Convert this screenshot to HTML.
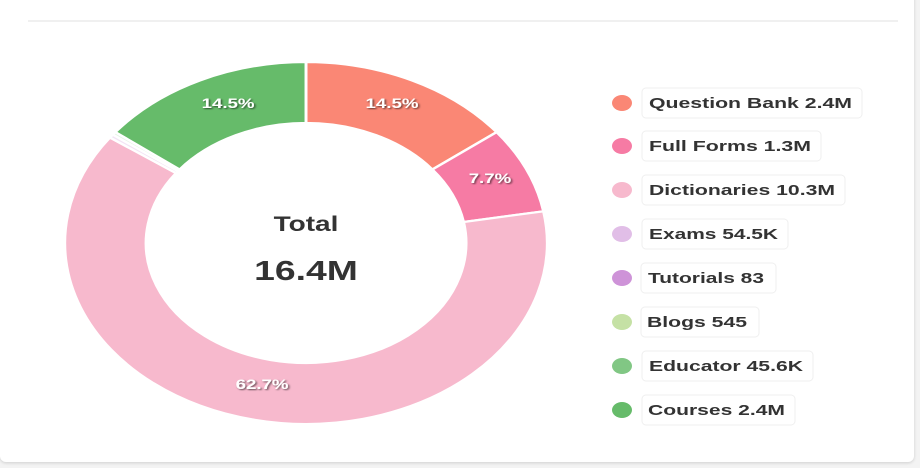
<!DOCTYPE html>
<html><head><meta charset="utf-8"><style>
html,body{margin:0;padding:0;background:#f3f3f3;}
.card{position:absolute;left:0;top:-10px;width:914px;height:472px;background:#fff;border-radius:6px;box-shadow:0 1px 3px rgba(0,0,0,0.15);}
svg{position:absolute;left:0;top:0;}
</style></head><body>
<div class="card"></div>
<svg width="920" height="468" viewBox="0 0 920 468" font-family="Liberation Sans, sans-serif">
<line x1="28" y1="21" x2="898" y2="21" stroke="#ececec" stroke-width="1.5"/>
<defs><filter id="sh" x="-20%" y="-20%" width="140%" height="140%"><feDropShadow dx="1" dy="1" stdDeviation="0.8" flood-color="#000" flood-opacity="0.6"/></filter></defs>
<g transform="translate(306,243) scale(1.333,1)" stroke="#fff" stroke-width="2.2">
<path d="M0,-181 A181,181 0 0 1 143.0,-110.9 L94.8,-73.5 A120,120 0 0 0 0,-120 Z" fill="#fa8775"/>
<path d="M143.0,-110.9 A181,181 0 0 1 178.2,-31.7 L118.2,-21.0 A120,120 0 0 0 94.8,-73.5 Z" fill="#f67ba4"/>
<path d="M178.2,-31.7 A181,181 0 1 1 -147.1,-105.5 L-97.5,-69.9 A120,120 0 1 0 118.2,-21.0 Z" fill="#f7b9cd"/>
<path d="M-147.1,-105.5 A181,181 0 0 1 -144.9,-108.4 L-96.0,-71.9 A120,120 0 0 0 -97.5,-69.9 Z" fill="#f3e4f5"/>
<path d="M-144.9,-108.4 A181,181 0 0 1 -143.0,-110.9 L-94.8,-73.5 A120,120 0 0 0 -96.0,-71.9 Z" fill="#e6f4e6"/>
<path d="M-143.0,-110.9 A181,181 0 0 1 0,-181 L0,-120 A120,120 0 0 0 -94.8,-73.5 Z" fill="#66bb6a"/>
<g stroke="none" fill="#fff" font-weight="bold" font-size="14" text-anchor="middle" filter="url(#sh)">
<text x="-58.5" y="-135">14.5%</text>
<text x="64.5" y="-135">14.5%</text>
<text x="138" y="-60">7.7%</text>
<text x="-33" y="146">62.7%</text>
</g>
<g stroke="none" fill="#333" font-weight="bold" text-anchor="middle">
<text x="0" y="-12" font-size="21">Total</text>
<text x="0" y="37" font-size="28">16.4M</text>
</g>
</g>
<g font-weight="bold" font-size="15" fill="#333">
<g><ellipse cx="622" cy="103" rx="10" ry="8" fill="#fa8775"/><rect x="642" y="88" width="220" height="30" rx="4" fill="#fff" stroke="#efefef"/><text x="649" y="108" textLength="203" lengthAdjust="spacingAndGlyphs">Question Bank 2.4M</text></g>
<g><ellipse cx="622" cy="146" rx="10" ry="8" fill="#f67ba4"/><rect x="642" y="131" width="179" height="30" rx="4" fill="#fff" stroke="#efefef"/><text x="649" y="151" textLength="162" lengthAdjust="spacingAndGlyphs">Full Forms 1.3M</text></g>
<g><ellipse cx="622" cy="190" rx="10" ry="8" fill="#f7b9cd"/><rect x="642" y="175" width="203" height="30" rx="4" fill="#fff" stroke="#efefef"/><text x="649" y="195" textLength="186" lengthAdjust="spacingAndGlyphs">Dictionaries 10.3M</text></g>
<g><ellipse cx="622" cy="234" rx="10" ry="8" fill="#e1bee7"/><rect x="642" y="219" width="146" height="30" rx="4" fill="#fff" stroke="#efefef"/><text x="649" y="239" textLength="129" lengthAdjust="spacingAndGlyphs">Exams 54.5K</text></g>
<g><ellipse cx="622" cy="278" rx="10" ry="8" fill="#ce93d8"/><rect x="641" y="263" width="135" height="30" rx="4" fill="#fff" stroke="#efefef"/><text x="648" y="283" textLength="116" lengthAdjust="spacingAndGlyphs">Tutorials 83</text></g>
<g><ellipse cx="622" cy="322" rx="10" ry="8" fill="#c5e1a5"/><rect x="641" y="307" width="118" height="30" rx="4" fill="#fff" stroke="#efefef"/><text x="647" y="327" textLength="100" lengthAdjust="spacingAndGlyphs">Blogs 545</text></g>
<g><ellipse cx="622" cy="366" rx="10" ry="8" fill="#81c784"/><rect x="642" y="351" width="171" height="30" rx="4" fill="#fff" stroke="#efefef"/><text x="649" y="371" textLength="154" lengthAdjust="spacingAndGlyphs">Educator 45.6K</text></g>
<g><ellipse cx="622" cy="410" rx="10" ry="8" fill="#66bb6a"/><rect x="642" y="395" width="153" height="30" rx="4" fill="#fff" stroke="#efefef"/><text x="648" y="415" textLength="137" lengthAdjust="spacingAndGlyphs">Courses 2.4M</text></g>
</g>
</svg>
</body></html>
